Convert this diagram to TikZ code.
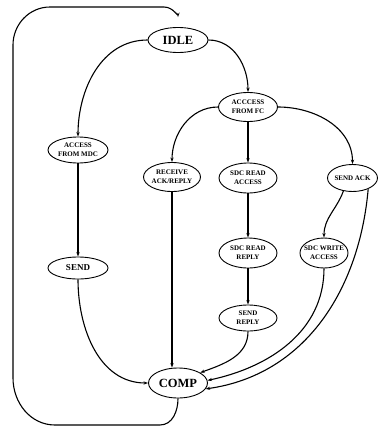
\documentclass[tikz,border=0pt]{standalone}
\usepackage{fontspec}
\setmainfont{Liberation Serif}
\usetikzlibrary{shapes.geometric,arrows.meta}
\newcommand\zb[1]{\makebox[0pt][c]{#1}}
\begin{document}
\begin{tikzpicture}[x=1pt,y=1pt,
  st/.style={draw, ellipse, line width=0.9pt, inner sep=0pt, align=center,
    font=\bfseries\fontsize{7}{9}\selectfont},
  big/.style={font=\bfseries\fontsize{12.5}{14}\selectfont},
  mid/.style={font=\bfseries\fontsize{9}{11}\selectfont},
  ar/.style={-{Stealth[length=4.5pt,width=3.2pt]}, line width=1.1pt}]
\useasboundingbox (0,0) rectangle (378,-426);
\node[st, big, minimum width=60, minimum height=25] (idle) at (178,-40) {\zb{IDLE}};
\node[st, minimum width=59, minimum height=29] (fc) at (248,-107) {\zb{ACCCESS}\\\zb{FROM FC}};
\node[st, minimum width=60, minimum height=26] (mdc) at (78,-150) {\zb{ACCESS}\\\zb{FROM MDC}};
\node[st, mid, minimum width=60, minimum height=22] (send) at (78,-268) {\zb{SEND}};
\node[st, minimum width=57, minimum height=29] (recv) at (172,-177) {\zb{RECEIVE}\\\zb{ACK/REPLY}};
\node[st, minimum width=58, minimum height=30] (sra) at (248,-178) {\zb{SDC READ}\\\zb{ACCESS}};
\node[st, minimum width=50, minimum height=27] (sack) at (352.5,-178) {\zb{SEND ACK}};
\node[st, minimum width=58, minimum height=30] (srr) at (248,-253) {\zb{SDC READ}\\\zb{REPLY}};
\node[st, minimum width=48, minimum height=30] (swa) at (324,-253) {\zb{SDC WRITE}\\\zb{ACCESS}};
\node[st, minimum width=58, minimum height=26] (srp) at (248,-318) {\zb{SEND}\\\zb{REPLY}};
\node[st, big, minimum width=59, minimum height=30] (comp) at (178,-383) {\zb{COMP}};

\coordinate (b1) at (160,-425);
\coordinate (b2) at (55,-425);
\coordinate (l1) at (13,-378);
\coordinate (l2) at (13,-45);
\coordinate (t1) at (50,-7);
\coordinate (t2) at (164,-7);

\draw[ar] (idle.west) to[out=180,in=90] (mdc.north);
\draw[ar] (idle.east) to[out=0,in=90] (fc.north);
\draw[ar] (fc.west) to[out=180,in=90] (recv.north);
\draw[ar] (fc.south) -- (sra.north);
\draw[ar] (fc.east) to[out=0,in=90] (sack.north);
\draw[ar] (mdc.south) -- (send.north);
\draw[ar] (send.south) to[out=-90,in=180] (comp.west);
\draw[ar] (recv.south) -- (recv.south |- comp.north);
\draw[ar] (sra.south) -- (srr.north);
\draw[ar] (srr.south) -- (srp.north);
\draw[ar] (srp.south) to[out=-90,in=20] (comp.25);
\draw[ar] (sack.235) to[out=-110,in=90] (swa.north);
\draw[ar] (swa.south) to[out=-90,in=12] (comp.5);
\draw[ar] (sack.-35) to[out=-95,in=8] (comp.-12);
\draw[ar, shorten >=10pt] (comp.south) to[out=-90,in=0] (b1) -- (b2)
  to[out=180,in=-90] (l1) -- (l2) to[out=90,in=180] (t1) -- (t2)
  to[out=0,in=90] (idle.north);
\end{tikzpicture}
\end{document}
